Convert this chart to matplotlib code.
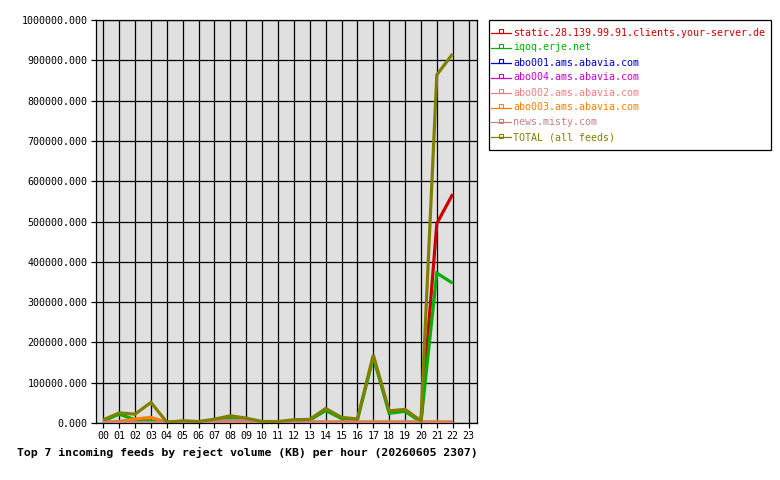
import matplotlib
matplotlib.use("Agg")
import matplotlib.pyplot as plt
from matplotlib.lines import Line2D
from matplotlib.patches import Rectangle
from matplotlib.ticker import FormatStrFormatter, MultipleLocator

hours = list(range(23))
hour_labels = [f"{h:02d}" for h in range(24)]

feeds = [
    "static.28.139.99.91.clients.your-server.de",
    "iqoq.erje.net",
    "abo001.ams.abavia.com",
    "abo004.ams.abavia.com",
    "abo002.ams.abavia.com",
    "abo003.ams.abavia.com",
    "news.misty.com",
    "TOTAL (all feeds)",
]
colors = ["#cc0000", "#00b000", "#0000cc", "#cc00cc", "#f08080",
          "#ff8000", "#c88080", "#808000"]

static_vals = [0] * 21 + [495000, 568000]
iqoq_vals = [5000, 22000, 8000, 5000, 1000, 4000, 2500, 7000, 14000, 8000,
             2000, 2000, 6000, 7000, 31000, 11000, 7500, 163000, 24000, 29000,
             2500, 372000, 347000]
abo001_vals = [0] * 23
abo004_vals = [0] * 23
abo002_vals = [0] * 23
abo003_vals = [2500, 4000, 10000, 14000, 2000, 1500, 1500, 3000, 6000, 4000,
               2500, 2500, 3000, 3000, 3000, 3000, 3000, 3000, 3000, 3000,
               3000, 3000, 3000]
misty_vals = [1200, 1200, 1200, 1200, 1200, 1200, 1200, 4000, 6000, 6000,
              1200, 1200, 1200, 1200, 1200, 1200, 1200, 1200, 1200, 1200,
              1200, 1200, 1200]
total_vals = [8000, 25000, 22000, 51000, 2000, 5500, 3700, 9500, 18000, 12000,
              3700, 3700, 8000, 9000, 36000, 14000, 10000, 169000, 30000, 34000,
              5500, 864000, 916000]

series = [static_vals, iqoq_vals, abo001_vals, abo004_vals, abo002_vals,
          abo003_vals, misty_vals, total_vals]

title = "Top 7 incoming feeds by reject volume (KB) per hour (20260605 2307)"

W, H = 780, 480
fig = plt.figure(figsize=(W / 100, H / 100), dpi=100)
fig.patch.set_facecolor("white")
mono = "DejaVu Sans Mono"

L, R, T, B = 96, 477, 20, 423
ax = fig.add_axes([L / W, 1 - B / H, (R - L) / W, (B - T) / H])
ax.set_facecolor("#e0e0e0")

for vals, c in zip(series, colors):
    ax.plot(hours, vals, color=c, lw=2.3, solid_joinstyle="miter",
            solid_capstyle="butt", zorder=3)

ax.set_xlim(-0.46, 23.53)
ax.set_ylim(0, 1000000)
ax.set_xticks(range(24))
ax.set_xticklabels(hour_labels)
ax.yaxis.set_major_locator(MultipleLocator(100000))
ax.yaxis.set_major_formatter(FormatStrFormatter("%.3f"))
ax.grid(True, color="black", lw=0.9, zorder=1)
ax.set_axisbelow(True)
for s in ax.spines.values():
    s.set_color("black")
    s.set_linewidth(0.9)
ax.tick_params(axis="both", length=3.5, width=0.9, color="black",
               labelsize=7.2, pad=2.5)
for lab in ax.get_xticklabels() + ax.get_yticklabels():
    lab.set_family(mono)

fig.text(247 / W, 1 - 452 / H, title, ha="center", va="center",
         family=mono, fontweight="bold", fontsize=8.25)

# legend box drawn in figure pixels
lx0, ly0, lx1, ly1 = 489, 20, 771, 150
fig.add_artist(Rectangle((lx0 / W, 1 - ly1 / H), (lx1 - lx0) / W,
                         (ly1 - ly0) / H, transform=fig.transFigure,
                         facecolor="white", edgecolor="black", lw=0.9))
for i, (name, c) in enumerate(zip(feeds, colors)):
    y = 1 - (32.5 + 15 * i) / H
    fig.add_artist(Line2D([491 / W, 511 / W], [y, y], transform=fig.transFigure,
                          color=c, lw=0.9))
    fig.add_artist(Line2D([501 / W], [y + 1.2 / H], transform=fig.transFigure,
                          color=c, marker="s", markersize=2.4,
                          markerfacecolor="none", markeredgewidth=0.8))
    fig.text(513 / W, y, name, color=c, family=mono, fontsize=7.2,
             ha="left", va="center")

fig.savefig("out.png", dpi=100)
